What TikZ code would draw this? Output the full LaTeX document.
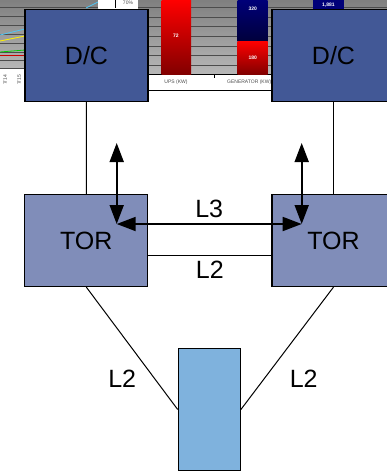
\documentclass[tikz,border=0pt]{standalone}
\usepackage{fontspec}
\setmainfont{Liberation Sans}
\usetikzlibrary{arrows.meta, positioning, calc}
\definecolor{dcblue}{RGB}{66,88,150}
\definecolor{torblue}{RGB}{128,141,185}
\definecolor{hostblue}{RGB}{127,178,221}
\definecolor{barnavy}{RGB}{0,0,120}
\definecolor{barnavydk}{RGB}{0,0,60}
\definecolor{barred}{RGB}{255,0,0}
\definecolor{barreddk}{RGB}{130,0,0}

\begin{document}
\begin{tikzpicture}[
    x=1pt, y=-1pt,
    font=\fontsize{25}{30}\selectfont,
    box/.style={rectangle, draw=black, line width=1.2pt, fill=#1,
                minimum width=123pt, minimum height=92pt, inner sep=0pt},
    hostbox/.style={rectangle, draw=black, line width=1.2pt, fill=hostblue,
                    minimum width=62pt, minimum height=122pt, inner sep=0pt},
    link/.style={draw=black, line width=1pt},
    arr/.style={{Triangle[length=19pt,width=14pt]}-{Triangle[length=19pt,width=14pt]}, line width=1.8pt},
    lbl/.style={inner sep=0pt},
    tiny/.style={font=\fontsize{5}{5}\selectfont, inner sep=0pt, text=#1},
    tiny/.default=black!70,
]
\useasboundingbox (0,0) rectangle (387,472);
\clip (0,0) rectangle (387,472);

% --- backdrop: piece of a chart screenshot (top) ---
\shade[top color=black!50, bottom color=black!28] (0,0) rectangle (98,69);
\shade[top color=black!50, bottom color=black!28] (138,0) rectangle (387,74);
\fill[white] (98,0) rectangle (138,8);
\draw[black, line width=1pt] (115,0) -- (115,8);
\fill[white] (0,69) rectangle (25,90);
\fill[white] (138,75) rectangle (272,90);
\foreach \y in {7,16,25,34,43,52,60,68}
  \draw[black!70, line width=0.8pt] (0,\y) -- (98,\y);
\foreach \y in {7,17,26,36,46,55,65}
  \draw[black!70, line width=0.8pt] (138,\y) -- (387,\y);
\draw[black, line width=1pt] (138,74.5) -- (387,74.5);
\draw[black, line width=1pt] (138,90) -- (272,90);
\draw[black, line width=0.6pt] (214,75) -- (214,78);
\draw[cyan!70!white, line width=0.8pt] (0,35) -- (25,29);
\draw[cyan!70!white, line width=0.8pt] (86,8) -- (98,2);
\draw[yellow, line width=0.8pt] (0,41) -- (25,36);
\draw[green!80!black, line width=0.8pt] (0,52) -- (25,50);
\draw[red!80!black, line width=0.8pt] (0,55) -- (25,55);
\shade[top color=barred, bottom color=barreddk] (161.7,0) rectangle (191,74);
\shade[top color=barnavy, bottom color=barnavydk] (237.7,0) rectangle (267.7,41);
\shade[top color=barred, bottom color=barreddk] (237.7,41) rectangle (267.7,74);
\fill[barnavy] (313,0) rectangle (344,9);
\node[tiny=white, font=\fontsize{5}{5}\bfseries] (v72)   at (176,36)   {72};
\node[tiny=white, font=\fontsize{5}{5}\bfseries] (v320)  at (252.7,9)  {320};
\node[tiny=white, font=\fontsize{5}{5}\bfseries] (v180)  at (252.7,58) {180};
\node[tiny=white, font=\fontsize{5}{5}\bfseries] (v1881) at (328.5,5)  {1,881};
\node[tiny] (pct)  at (128,3)  {70\%};
\node[tiny] (ups)  at (176,82) {UPS (KW)};
\node[tiny, anchor=west] (gen) at (227,82) {GENERATOR (KW)};
\node[tiny, rotate=90] (d14) at (5,80)  {7/14};
\node[tiny, rotate=90] (d15) at (19,80) {7/15};

% --- boxes ---
\node[box=dcblue]  (dcl)  at (86.5,55.5)   {D/C};
\node[box=dcblue]  (dcr)  at (333.5,55.5)  {D/C};
\node[box=torblue] (torl) at (86.3,240.5)  {TOR};
\node[box=torblue] (torr) at (333.5,240.5) {TOR};
\node[hostbox]     (host) at (209.3,409.5) {};

% --- arrow ends ---
\coordinate (ltop) at (116.7,143);
\coordinate (lj)   at (116.7,224);
\coordinate (rtop) at (301.7,143);
\coordinate (rj)   at (301.7,224);

% --- links ---
\draw[link] (dcl) -- (torl);
\draw[link] (dcr) -- (torr);
\draw[link] ($(torl.east)+(0,14.5)$) -- node[lbl, below=6pt] (l2mid) {L2} ($(torr.west)+(0,14.5)$);
\draw[link] (torl.south) -- node[lbl, pos=0.747, left=18pt]  (l2left)  {L2} (host.west);
\draw[link] (torr.south) -- node[lbl, pos=0.747, right=25pt] (l2right) {L2} (host.east);

% --- arrows ---
\draw[arr] (ltop) -- (lj);
\draw[arr] (rtop) -- (rj);
\draw[arr] (lj) -- node[lbl, above=5pt] (l3) {L3} (rj);
\end{tikzpicture}
\end{document}
